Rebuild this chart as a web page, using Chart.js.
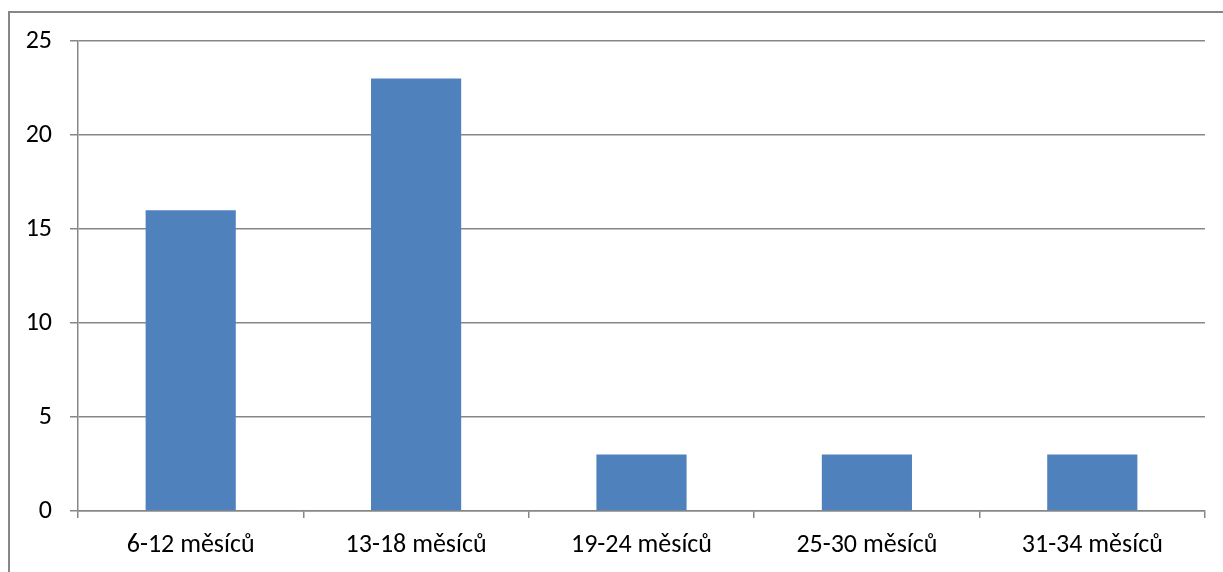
<!DOCTYPE html>
<html>
<head>
<meta charset="utf-8">
<script src="https://cdn.jsdelivr.net/npm/chart.js@4/dist/chart.umd.min.js"></script>
<style>
  html, body { margin: 0; padding: 0; background: #fff; overflow: hidden; }
  #wrap { position: relative; width: 1223px; height: 572px; }
  #frame { position: absolute; left: 8px; top: 11px; width: 1400px; height: 800px;
           border: 2px solid #878787; box-sizing: border-box; }
  canvas { position: absolute; left: 0; top: 0; }
</style>
</head>
<body>
<div id="wrap">
  <div id="frame"></div>
  <canvas id="chart" width="1223" height="572"></canvas>
</div>
<script>
// Počet dětí podle věkové skupiny
const categories = ['6-12 měsíců', '13-18 měsíců', '19-24 měsíců', '25-30 měsíců', '31-34 měsíců'];
const counts = [16, 23, 3, 3, 3];
const yTicks = [0, 5, 10, 15, 20, 25];

const gridColor = '#878787';
const fontSpec = { family: 'Carlito, Calibri, Lato, sans-serif', size: 26 };

new Chart(document.getElementById('chart'), {
  type: 'bar',
  data: {
    labels: categories,
    datasets: [{
      data: counts,
      backgroundColor: '#4F81BD',
      borderWidth: 0,
      categoryPercentage: 1.0,
      barPercentage: 0.4
    }]
  },
  options: {
    responsive: false,
    animation: false,
    events: [],
    layout: { padding: { left: 0, top: 41, right: 18, bottom: 0 } },
    plugins: { legend: { display: false }, tooltip: { enabled: false } },
    scales: {
      x: {
        grid: {
          offset: true,
          drawOnChartArea: false,
          drawTicks: true,
          tickLength: 7,
          color: gridColor,
          lineWidth: 1.5
        },
        border: { display: true, color: gridColor, width: 1.5 },
        ticks: { color: '#000', font: fontSpec, padding: 12, maxRotation: 0 },
        afterFit: s => { s.height = 61; }
      },
      y: {
        min: 0,
        max: 25,
        afterBuildTicks: s => { s.ticks = yTicks.map(v => ({ value: v })); },
        grid: {
          color: gridColor,
          lineWidth: 1.5,
          drawTicks: true,
          tickLength: 8
        },
        border: { display: true, color: gridColor, width: 1.5 },
        ticks: { color: '#000', font: fontSpec, padding: 18 },
        afterFit: s => { s.width = 78; }
      }
    }
  }
});
</script>
</body>
</html>
